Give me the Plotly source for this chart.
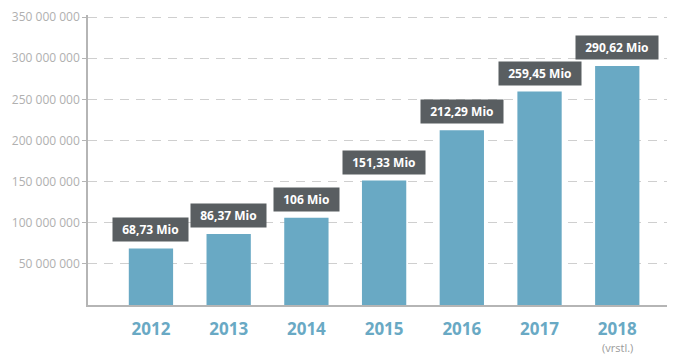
import plotly.graph_objects as go

years = ["2012", "2013", "2014", "2015", "2016", "2017", "2018"]
values = [68.73e6, 86.37e6, 106e6, 151.33e6, 212.29e6, 259.45e6, 290.62e6]
labels = ["68,73 Mio", "86,37 Mio", "106 Mio", "151,33 Mio", "212,29 Mio", "259,45 Mio", "290,62 Mio"]
ytick_vals = [50e6, 100e6, 150e6, 200e6, 250e6, 300e6, 350e6]
ytick_text = ["50 000 000", "100 000 000", "150 000 000", "200 000 000", "250 000 000", "300 000 000", "350 000 000"]
note_text = "(vrstl.)"

BAR = "#69a9c4"
BOX = "#595e61"

fig = go.Figure(go.Bar(x=list(range(len(years))), y=values, marker_color=BAR,
                       marker_line_width=0, width=0.57))

for i, (v, lab) in enumerate(zip(values, labels)):
    fig.add_annotation(x=i, y=v, text="&nbsp;&nbsp;<b>" + lab + "</b>&nbsp;&nbsp;", showarrow=False,
                       yanchor="bottom", yshift=6, bgcolor=BOX, borderpad=3,
                       font=dict(family="Open Sans", size=12, color="white"))

fig.add_annotation(x=len(years) - 1, y=0, yref="y", text=note_text, showarrow=False,
                   yanchor="top", yshift=-33, font=dict(family="Open Sans", size=11, color="#9a9a9a"))

# page body has an 8px default margin, so the figure is sized/offset to compensate
fig.update_layout(
    width=672, height=351,
    margin=dict(l=80, r=13, t=7, b=54, autoexpand=False),
    paper_bgcolor="white", plot_bgcolor="white",
    showlegend=False, bargap=0.43,
    xaxis=dict(range=[-0.81, 6.64], tickvals=list(range(len(years))), ticktext=["<b>" + y + "</b>" for y in years],
               tickfont=dict(family="Open Sans", size=17, color=BAR), showgrid=False, automargin=False,
               showline=True, linecolor="#b5b5b5", linewidth=1.5, ticks="", zeroline=False,
               ticklabelstandoff=8),
    yaxis=dict(range=[0, 352.5e6], tickvals=ytick_vals, ticktext=ytick_text, automargin=False,
               ticklabeloverflow="allow",
               tickfont=dict(family="Open Sans", size=12, color="#b0b0b0"),
               showgrid=True, gridcolor="#cfcfcf", griddash="9px,7px", gridwidth=1,
               showline=True, linecolor="#b5b5b5", linewidth=1.5,
               ticks="outside", ticklen=4, tickcolor="#b5b5b5", zeroline=False),
)

fig.write_html("out.html")
